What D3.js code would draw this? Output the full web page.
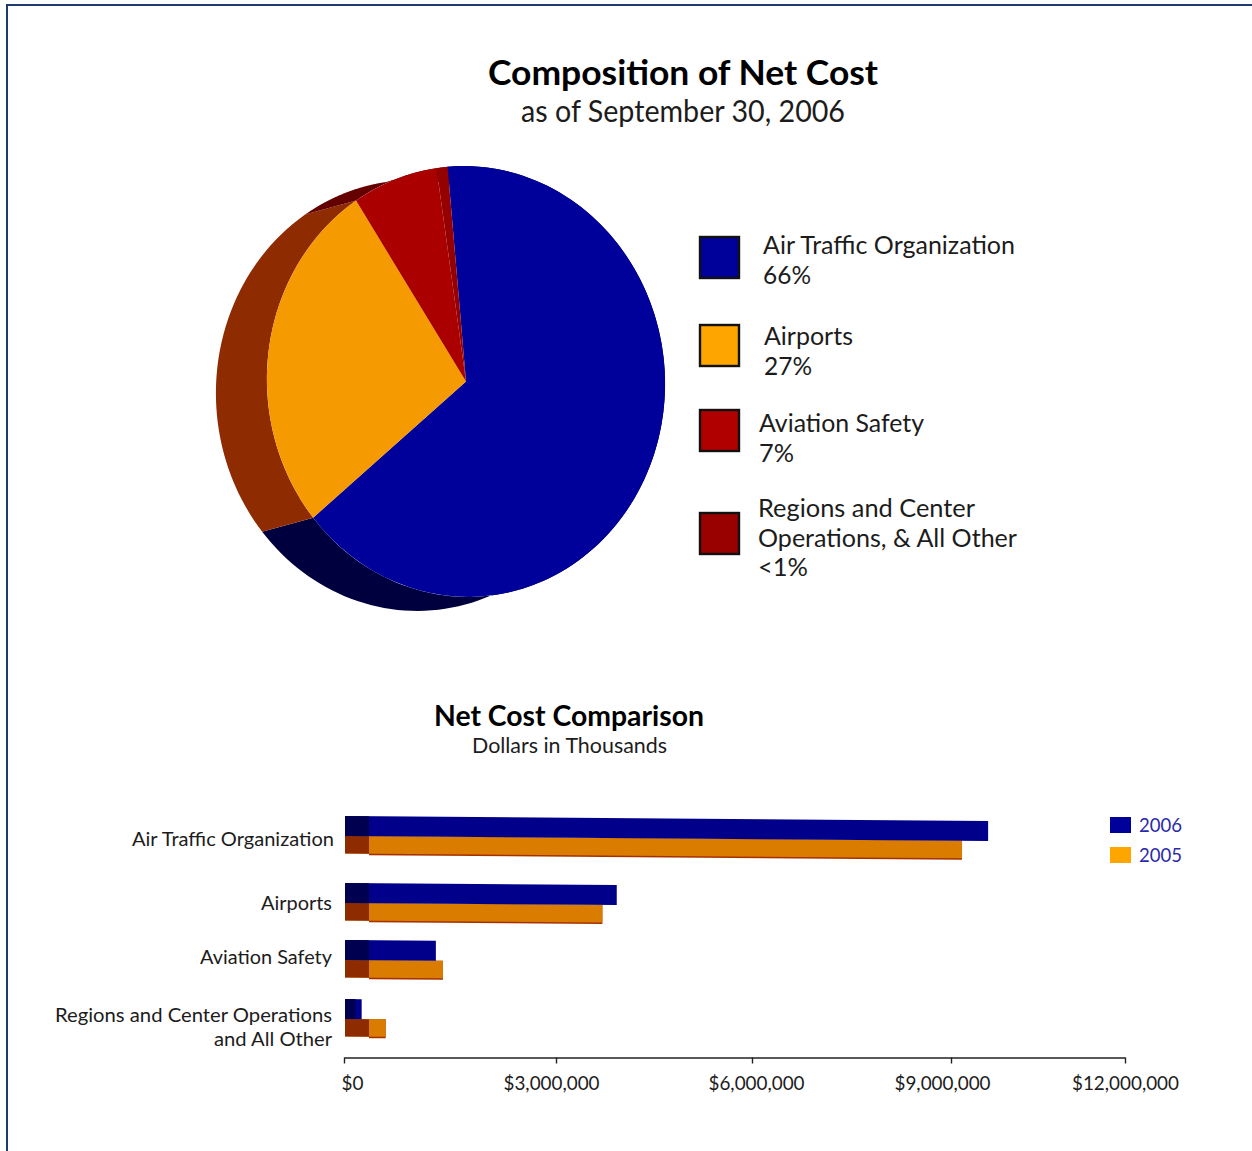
<!DOCTYPE html>
<html>
<head>
<meta charset="utf-8">
<script src="https://cdn.jsdelivr.net/npm/d3@7/dist/d3.min.js"></script>
<style>
html,body{margin:0;padding:0;background:#fff;overflow:hidden}
svg{display:block}
text{font-family:Lato,"Open Sans",sans-serif;fill:#1c1c1c}
</style>
</head>
<body>
<svg id="chart" width="1252" height="1151"></svg>
<script>
// Composition of net cost, percent of total (the last slice is labelled <1%)
const pieCategories = ["Air Traffic Organization", "Airports", "Aviation Safety", "Regions and Center Operations, & All Other"];
const pieValues = [66, 27, 7, 0.9];
const pieLabels = [["Air Traffic Organization", "66%"], ["Airports", "27%"], ["Aviation Safety", "7%"], ["Regions and Center", "Operations,  & All Other", "<1%"]];
const pieTopColors = ["#00009b", "#f59a00", "#aa0000", "#950000"];
const pieSwatchColors = ["#00009b", "#ffa500", "#b00000", "#990000"];
const pieSideColors = ["#00003f", "#8f2b00", "#640000", "#640000"];

// Net cost by line of business, dollars in thousands
const barCategories = ["Air Traffic Organization", "Airports", "Aviation Safety", "Regions and Center Operations and All Other"];
const values2006 = [9640000, 3930000, 1300000, 250000];
const values2005 = [9190000, 3710000, 1400000, 590000];
const barLabels = [["Air Traffic Organization"], ["Airports"], ["Aviation Safety"], ["Regions and Center Operations", "and All Other"]];
const axisTicks = [0, 3000000, 6000000, 9000000, 12000000];
const years = ["2006", "2005"];

const svg = d3.select("#chart");

// Page frame, open towards the right and bottom edges
svg.append("path").attr("d", "M7,1151V5H1252").attr("fill", "none").attr("stroke", "#1f3a70").attr("stroke-width", 2);

function label(parent, x, y, str, size, width, opts = {}) {
  const t = parent.append("text").attr("x", x).attr("y", y).attr("font-size", size)
    .attr("text-anchor", opts.anchor || "start").attr("font-weight", opts.weight || 400).text(str);
  if (opts.fill) t.style("fill", opts.fill);
  if (width) t.attr("textLength", width).attr("lengthAdjust", "spacingAndGlyphs");
  return t;
}

/* ---------- Pie ---------- */
const pieCx = 466, pieCy = 381.5, rx = 199, ry = 215.5, tilt = -4;
const depth = [-51, 14];
const tiltRad = tilt * Math.PI / 180;
const startDeg = -1;
const arcs = d3.pie().sort(null).startAngle(startDeg * Math.PI / 180).endAngle((startDeg + 360) * Math.PI / 180)(pieValues);

// Outer rim position on the tilted ellipse for a pie angle
function rim(a) {
  const x = rx * Math.sin(a), y = -ry * Math.cos(a);
  return [pieCx + x * Math.cos(tiltRad) - y * Math.sin(tiltRad),
          pieCy + x * Math.sin(tiltRad) + y * Math.cos(tiltRad)];
}
const line = d3.line();
const sides = svg.append("g");
arcs.forEach((d, i) => {
  const steps = d3.range(0, 121).map(k => d.startAngle + (d.endAngle - d.startAngle) * k / 120);
  const near = steps.map(rim);
  const far = near.map(p => [p[0] + depth[0], p[1] + depth[1]]).reverse();
  sides.append("path").attr("d", line(near.concat(far)) + "Z").attr("fill", pieSideColors[i]);
});
const arcGen = d3.arc().innerRadius(0).outerRadius(1);
svg.append("g")
  .attr("transform", `translate(${pieCx},${pieCy}) rotate(${tilt}) scale(${rx},${ry})`)
  .selectAll("path").data(arcs).join("path")
  .attr("d", arcGen).attr("fill", (d, i) => pieTopColors[i]);

label(svg, 683, 85, "Composition of Net Cost", 35, 390, {anchor: "middle", weight: 700, fill: "#000"});
label(svg, 683, 122, "as of September 30, 2006", 30, 324, {anchor: "middle"});

// Pie legend
const swatchY = [237, 325, 410, 513];
const legendX = [763, 764, 759, 758];
const legendBase = [254, 345, 432, 517];
const legendWidth = [[252, 48], [89, 48], [165, 35], [217, 259, 50]];
pieLabels.forEach((lines, i) => {
  svg.append("rect").attr("x", 700).attr("y", swatchY[i]).attr("width", 39).attr("height", 41)
    .attr("fill", pieSwatchColors[i]).attr("stroke", "#111").attr("stroke-width", 2.4);
  lines.forEach((s, j) => label(svg, legendX[i], legendBase[i] + j * 29.5, s, 24.4, legendWidth[i][j]));
});

/* ---------- Bars ---------- */
const xScale = d3.scaleLinear().domain(axisTicks).range([344, 556, 752, 951, 1125]);
const rowY = d3.scaleOrdinal().domain(barCategories).range([816, 883, 940, 999]);
const barH = 20;
const slant = 0.0078;       // the bars sag slightly towards their far end
const sideW = 24;

function bar(g, value, top, h, faceColor, sideColor, lipColor) {
  const x0 = xScale(0) + 1, x1 = xScale(value);
  const s = Math.min(sideW, (x1 - x0) * 0.62);
  const yAt = x => top + (x - x0) * slant;
  const poly = (a, b, c) => line([[a, yAt(a)], [b, yAt(b)], [b, yAt(b) + c], [a, yAt(a) + c]]) + "Z";
  g.append("path").attr("d", poly(x0, x1, h)).attr("fill", faceColor);
  if (lipColor) g.append("path").attr("d", poly(x0 + s, x1, h + 1.5)).attr("fill", lipColor).lower();
  g.append("path").attr("d", poly(x0, x0 + s, h)).attr("fill", sideColor);
}
const barG = svg.append("g");
barCategories.forEach((c, i) => {
  const g = barG.append("g");
  const y = rowY(c);
  bar(g, values2005[i], y + barH, 17.5, "#d97c00", "#8f2b00", "#a83000");
  bar(g, values2006[i], y, barH, "#00008b", "#000050");
});

const labelBase = [846, 910, 964, 1022];
const labelEnd = [334, 332, 332, 332];
const labelWidth = [[202], [71], [132], [277, 118]];
barLabels.forEach((lines, i) => lines.forEach((s, j) =>
  label(svg, labelEnd[i], labelBase[i] + j * 23.5, s, 19.5, labelWidth[i][j], {anchor: "end"})));

// Value axis
const axis = svg.append("g").attr("transform", "translate(0,1057.5)")
  .call(d3.axisBottom(xScale).tickValues(axisTicks).tickFormat(d => "$" + d3.format(",")(d)).tickSize(6).tickSizeOuter(0));
axis.select(".domain").attr("stroke", "#222").attr("stroke-width", 1.6);
axis.selectAll(".tick line").attr("stroke", "#222").attr("stroke-width", 1.4);
const tickShift = [8, -5, 4, -9, 0];
const tickWidth = [22, 96, 96, 96, 107];
axis.selectAll(".tick text").attr("font-size", 20).attr("font-family", null)
  .attr("y", 18).attr("dy", "0.71em").attr("x", (d, i) => tickShift[i])
  .attr("textLength", (d, i) => tickWidth[i]).attr("lengthAdjust", "spacingAndGlyphs");

label(svg, 569, 726, "Net Cost Comparison", 28, 270, {anchor: "middle", weight: 700, fill: "#000"});
label(svg, 569.5, 753, "Dollars in Thousands", 21, 195, {anchor: "middle"});

// Year legend
const yearColors = ["#00009b", "#ffa500"];
years.forEach((yr, i) => {
  svg.append("rect").attr("x", 1110).attr("y", 817 + i * 30).attr("width", 21).attr("height", 16).attr("fill", yearColors[i]);
  label(svg, 1139, 832 + i * 30, yr, 20, 43, {fill: "#2a2aa8"});
});
</script>
</body>
</html>
